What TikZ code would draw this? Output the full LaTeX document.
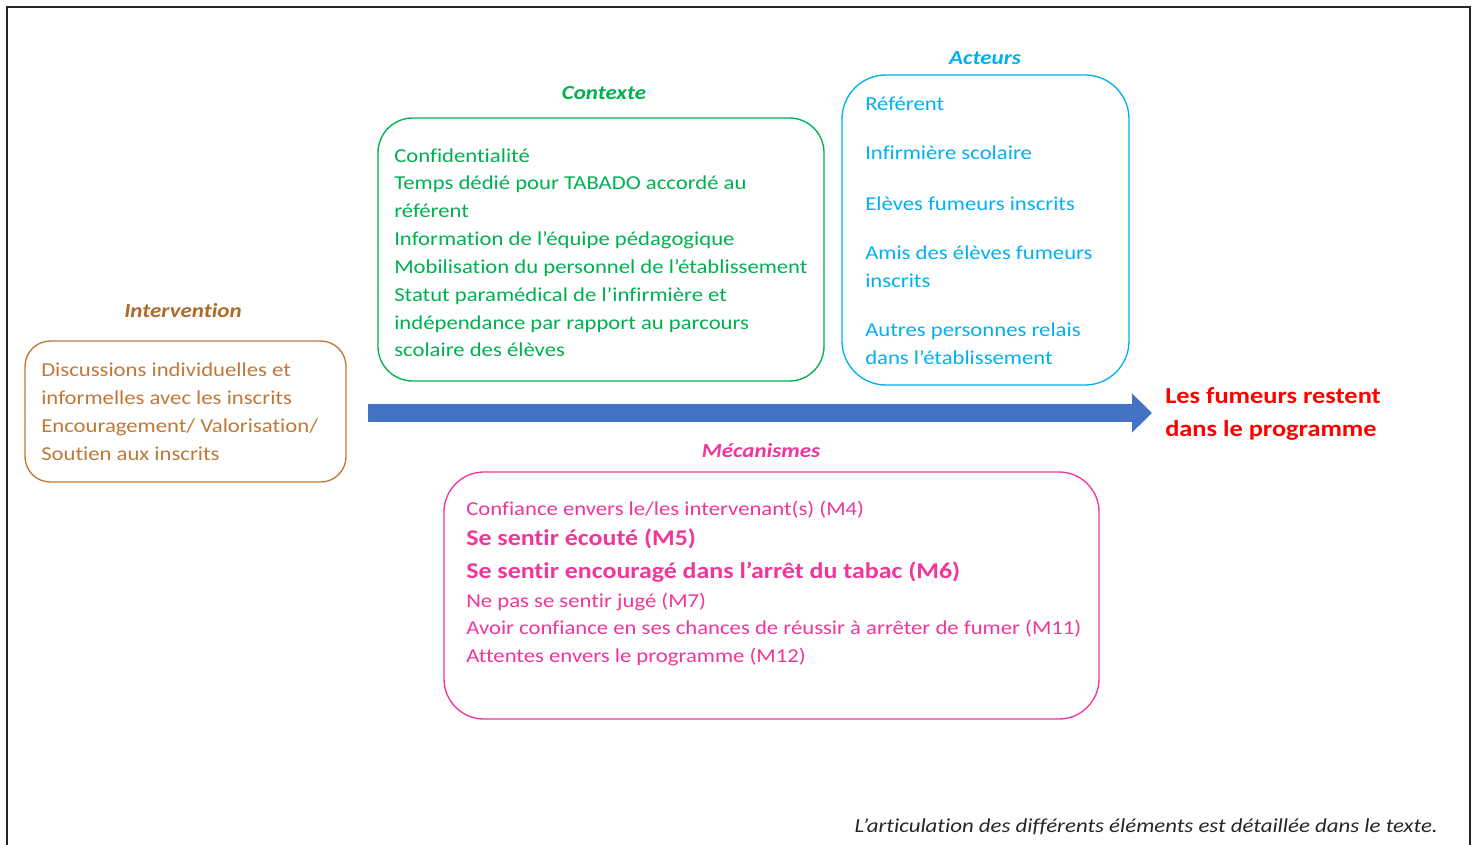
\documentclass[tikz,border=0pt]{standalone}
\usepackage{fontspec}
\setmainfont{Carlito}[Ligatures={NoCommon}, FakeStretch=1.15]
\usetikzlibrary{arrows.meta}
\definecolor{brownT}{HTML}{C07838}
\definecolor{brownH}{HTML}{B06A28}
\definecolor{greenT}{HTML}{00B050}
\definecolor{cyanT}{HTML}{00B0F0}
\definecolor{pinkT}{HTML}{F0369A}
\definecolor{redT}{HTML}{FF0000}
\definecolor{arrowB}{HTML}{4472C4}
\tikzset{
  frame/.style={line width=1.6pt, draw=black!85},
  boxshape/.style={draw, line width=1pt, rectangle, inner sep=0pt},
  txt/.style={anchor=base west, inner sep=0pt, font=\fontsize{14.8}{18}\selectfont},
  ttl/.style={anchor=center, inner sep=0pt, font=\fontsize{15}{18}\selectfont\bfseries\itshape},
  bigtxt/.style={anchor=base west, inner sep=0pt, font=\fontsize{16.9}{20}\selectfont\bfseries},
  redtxt/.style={anchor=base west, inner sep=0pt, text=redT, font=\fontsize{17.2}{22}\selectfont\bfseries},
}
\begin{document}
\begin{tikzpicture}[x=0.75pt,y=-0.75pt]
\useasboundingbox (0,0) rectangle (1477,845);
% frame
\coordinate (fbl) at (7,850);
\coordinate (ftl) at (7,7);
\coordinate (ftr) at (1470,7);
\coordinate (fbr) at (1470,850);
\draw[frame] (fbl) -- (ftl) -- (ftr) -- (fbr);

% Intervention
\node[ttl, text=brownH] (tInt) at (183,311) {Intervention};
\node[boxshape, draw=brownT, rounded corners=19pt, minimum width=240.75pt, minimum height=105.75pt] (bInt) at (185.5,411.5) {};
\begin{scope}[every node/.style={txt, text=brownT}]
\node (i1) at (41,376) {Discussions individuelles et};
\node (i2) at (41,404) {informelles avec les inscrits};
\node (i3) at (41,432) {Encouragement/ Valorisation/};
\node (i4) at (41,460) {Soutien aux inscrits};
\end{scope}

% Contexte
\node[ttl, text=greenT] (tCtx) at (604,93) {Contexte};
\node[boxshape, draw=greenT, rounded corners=26pt, minimum width=334.5pt, minimum height=197.25pt] (bCtx) at (601,249.5) {};
\begin{scope}[every node/.style={txt, text=greenT}]
\node (c1) at (394,162) {Confidentialité};
\node (c2) at (394,190) {Temps dédié pour TABADO accordé au};
\node (c3) at (394,217) {référent};
\node (c4) at (394,245) {Information de l’équipe pédagogique};
\node (c5) at (394,273) {Mobilisation du personnel de l’établissement};
\node (c6) at (394,301) {Statut paramédical de l’infirmière et};
\node (c7) at (394,329) {indépendance par rapport au parcours};
\node (c8) at (394,356) {scolaire des élèves};
\end{scope}

% Acteurs
\node[ttl, text=cyanT] (tAct) at (985,58) {Acteurs};
\node[boxshape, draw=cyanT, rounded corners=33pt, minimum width=215.25pt, minimum height=232.5pt] (bAct) at (985.5,230) {};
\begin{scope}[every node/.style={txt, text=cyanT}]
\node (a1) at (865,111) {Référent};
\node (a2) at (865,160) {Infirmière scolaire};
\node (a3) at (865,210) {Elèves fumeurs inscrits};
\node (a4) at (865,259) {Amis des élèves fumeurs};
\node (a5) at (865,287) {inscrits};
\node (a6) at (865,336) {Autres personnes relais};
\node (a7) at (865,364) {dans l’établissement};
\end{scope}

% Arrow
\coordinate (arS) at (368,413);
\node[redtxt] (out1) at (1165,403) {Les fumeurs restent};
\node[redtxt] (out2) at (1165,436) {dans le programme};
\coordinate (arE) at (1152,413);
\draw[draw=arrowB, line width=13.5pt, -{Triangle[length=15pt,width=28.5pt,fill=arrowB]}] (arS) -- (arE);

% Mecanismes
\node[ttl, text=pinkT] (tMec) at (761,451) {Mécanismes};
\node[boxshape, draw=pinkT, rounded corners=30pt, minimum width=491.25pt, minimum height=185.25pt] (bMec) at (771.5,595.5) {};
\begin{scope}[text=pinkT]
\node[txt] (m1) at (466,515) {Confiance envers le/les intervenant(s) (M4)};
\node[bigtxt] (m2) at (466,545) {Se sentir écouté (M5)};
\node[bigtxt] (m3) at (466,578) {Se sentir encouragé dans l’arrêt du tabac (M6)};
\node[txt] (m4) at (466,607) {Ne pas se sentir jugé (M7)};
\node[txt] (m5) at (466,634) {Avoir confiance en ses chances de réussir à arrêter de fumer (M11)};
\node[txt] (m6) at (466,662) {Attentes envers le programme (M12)};
\end{scope}

% footnote
\node[anchor=base east, inner sep=0pt, font=\fontsize{14.9}{18}\selectfont\itshape, text=black!85] (foot) at (1438,832) {L’articulation des différents éléments est détaillée dans le texte.};
\end{tikzpicture}
\end{document}
